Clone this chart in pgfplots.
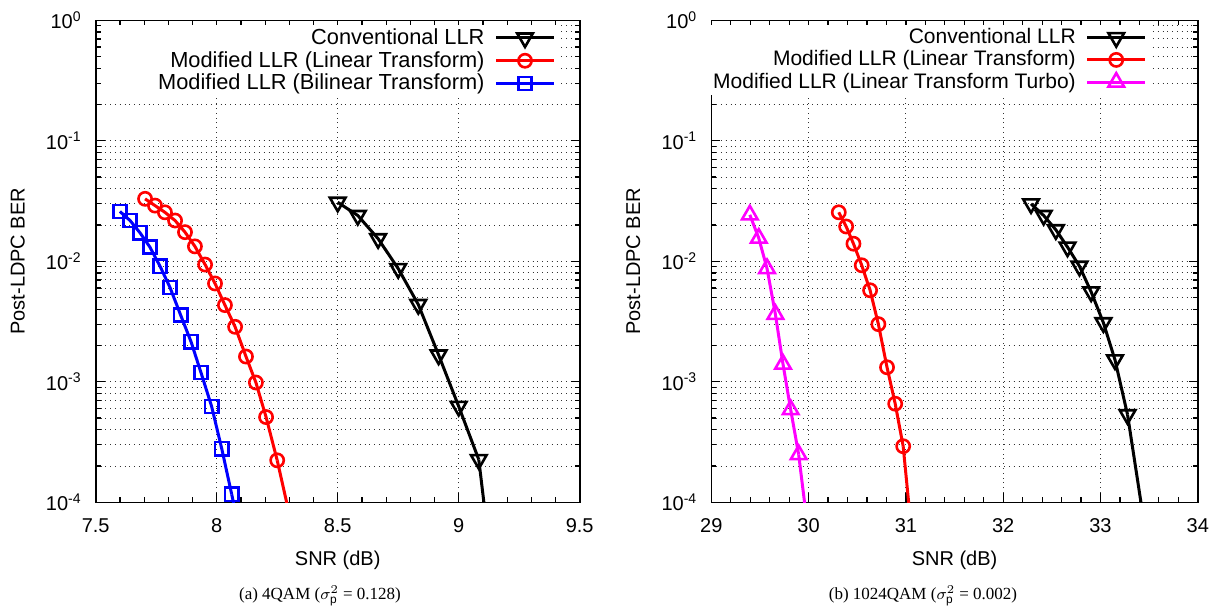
\documentclass[border=0pt]{standalone}
\usepackage{pgfplots}
\pgfplotsset{compat=1.18}
\usepackage{fontspec}
\setmainfont{Liberation Sans}
\newfontfamily\capfont{Liberation Serif}
\definecolor{mag}{RGB}{255,0,255}
\definecolor{pred}{RGB}{255,0,0}
\definecolor{pblue}{RGB}{0,0,255}

\pgfplotsset{
  every axis/.append style={
    scale only axis,
    height=241pt,
    ymin=1e-4, ymax=1,
    ytick={1e-4,1e-3,1e-2,1e-1,1},
    yticklabels={10\textsuperscript{-4},10\textsuperscript{-3},10\textsuperscript{-2},10\textsuperscript{-1},10\textsuperscript{0}},
    xmajorgrids, ymajorgrids, yminorgrids,
    major grid style={dotted, black!80, line width=0.5pt},
    minor grid style={dotted, black!80, line width=0.5pt},
    tick align=inside,
    major tick length=4.5pt, minor tick length=2.5pt,
    tick style={black, line width=0.6pt},
    axis line style={line width=0.8pt},
    xticklabel style={yshift=-4.5pt, font=\fontsize{10}{12}\selectfont},
    yticklabel style={xshift=-3.5pt, font=\fontsize{10}{12}\selectfont},
    xlabel={SNR (dB)},
    ylabel={Post-LDPC BER},
    legend plot pos=right,
    legend cell align=right,
    legend style={draw=none, fill=white, font=\fontsize{10.9}{11.5}\selectfont, inner sep=1pt, anchor=north east,
      column sep=3pt, nodes={inner ysep=1pt}},
  },
  every axis x label/.style={at={(axis description cs:0.5,0)}, anchor=center, yshift=-29pt, font=\fontsize{10}{12}\selectfont},
  every axis y label/.style={at={(axis description cs:0,0.5)}, xshift=-39pt, rotate=90, anchor=center, font=\fontsize{10}{12}\selectfont},
  legend image code/.code={\draw[mark repeat=2,mark phase=2,#1] plot coordinates {(0pt,0pt)(14.5pt,0pt)(29pt,0pt)};},
}

\begin{document}
\begin{tikzpicture}
\useasboundingbox (0,0) rectangle (611.5pt,305.5pt);

\begin{semilogyaxis}[at={(47.85pt,54.35pt)}, anchor=south west, width=242pt,
  xmin=7.5, xmax=9.5, xtick={7.5,8,8.5,9,9.5}, xticklabels={7.5,8,8.5,9,9.5},
  minor x tick num=4,
  legend style={at={(0.955,0.992)}}]
\addplot[black, line width=1.5pt, mark=triangle, mark size=4.5pt, mark options={solid, line width=1.3pt, rotate=180}] coordinates {
(8.500,0.0309)(8.583,0.0240)(8.667,0.0154)(8.750,0.0087)(8.833,0.00438)(8.917,0.00167)(9.000,0.000625)(9.083,0.000226)};
\addlegendentry{\makebox[189pt][r]{Conventional LLR}}
\addplot[pred, line width=1.5pt, mark=o, mark size=3.3pt, mark options={solid, line width=1.3pt}] coordinates {
(7.704,0.0330)(7.745,0.0290)(7.786,0.0255)(7.828,0.0218)(7.869,0.01746)(7.910,0.0133)(7.952,0.0094)(7.993,0.00655)(8.034,0.00433)(8.076,0.00286)(8.121,0.00162)(8.162,0.000986)(8.204,0.000510)(8.250,0.000223)};
\addlegendentry{Modified LLR (Linear Transform)}
\addplot[pblue, line width=1.5pt, mark=square, mark size=3.3pt, mark options={solid, line width=1.3pt}] coordinates {
(7.600,0.0259)(7.642,0.0218)(7.683,0.01726)(7.724,0.01312)(7.766,0.00909)(7.807,0.00607)(7.851,0.00358)(7.894,0.00215)(7.935,0.001194)(7.979,0.000625)(8.021,0.000278)(8.062,0.0001164)};
\addlegendentry{Modified LLR (Bilinear Transform)}
\addplot[black, line width=1.5pt, forget plot] coordinates {(9.083,0.000226)(9.12,5.4e-5)};
\addplot[pred, line width=1.5pt, forget plot] coordinates {(8.250,0.000223)(8.31,6.5e-5)};
\addplot[pblue, line width=1.5pt, forget plot] coordinates {(8.062,0.0001164)(8.08,7.9e-5)};
\end{semilogyaxis}

\begin{semilogyaxis}[at={(355.65pt,54.35pt)}, anchor=south west, width=243.25pt,
  xmin=29, xmax=34, xtick={29,30,31,32,33,34}, xticklabels={29,30,31,32,33,34},
  minor x tick num=4,
  legend style={at={(0.90,0.992)}, font=\fontsize{10.5}{11.5}\selectfont}]
\addplot[black, line width=1.5pt, mark=triangle, mark size=4.5pt, mark options={solid, line width=1.3pt, rotate=180}] coordinates {
(32.286,0.0300)(32.416,0.0240)(32.541,0.01827)(32.661,0.01312)(32.784,0.0091)(32.904,0.00557)(33.030,0.00309)(33.149,0.00152)(33.278,0.000533)};
\addlegendentry{\makebox[181pt][r]{Conventional LLR}}
\addplot[pred, line width=1.5pt, mark=o, mark size=3.3pt, mark options={solid, line width=1.3pt}] coordinates {
(30.310,0.0255)(30.386,0.01946)(30.461,0.0140)(30.546,0.00927)(30.632,0.00575)(30.717,0.00301)(30.806,0.00132)(30.890,0.000658)(30.972,0.000292)};
\addlegendentry{Modified LLR (Linear Transform)}
\addplot[mag, line width=1.5pt, mark=triangle, mark size=4.5pt, mark options={solid, line width=1.3pt}] coordinates {
(29.396,0.0243)(29.488,0.01556)(29.573,0.0087)(29.659,0.00363)(29.737,0.00140)(29.816,0.000587)(29.898,0.000249)};
\addlegendentry{Modified LLR (Linear Transform Turbo)}
\addplot[black, line width=1.5pt, forget plot] coordinates {(33.278,0.000533)(33.45,6.6e-5)};
\addplot[pred, line width=1.5pt, forget plot] coordinates {(30.972,0.000292)(31.05,6.6e-5)};
\addplot[mag, line width=1.5pt, forget plot] coordinates {(29.898,0.000249)(29.98,7.2e-5)};
\end{semilogyaxis}

\node[font=\capfont\fontsize{8.5}{10}\selectfont] at (160pt,7.5pt) {(a) 4QAM ($\sigma_{\mathrm{p}}^2$ = 0.128)};
\node[font=\capfont\fontsize{8.5}{10}\selectfont] at (461.5pt,7.5pt) {(b) 1024QAM ($\sigma_{\mathrm{p}}^2$ = 0.002)};
\end{tikzpicture}
\end{document}
